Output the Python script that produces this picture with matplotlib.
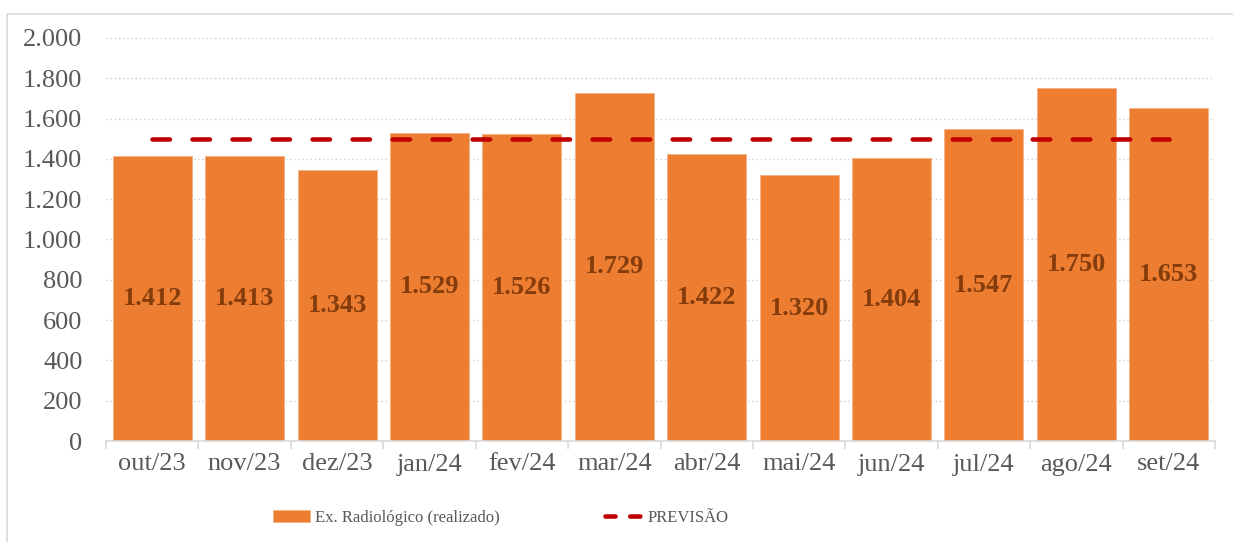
import matplotlib
matplotlib.use('Agg')
import matplotlib.pyplot as plt
from matplotlib.patches import Rectangle
from matplotlib.lines import Line2D

meses = ['out/23', 'nov/23', 'dez/23', 'jan/24', 'fev/24', 'mar/24',
         'abr/24', 'mai/24', 'jun/24', 'jul/24', 'ago/24', 'set/24']
realizado = [1412, 1413, 1343, 1529, 1526, 1729, 1422, 1320, 1404, 1547, 1750, 1653]
previsao = [1500] * len(meses)

plt.rcParams['font.family'] = ['Liberation Serif', 'DejaVu Serif']

fig = plt.figure(figsize=(12.33, 5.42), dpi=100)
ax = fig.add_axes([106 / 1233, 1 - 441 / 542, 1109 / 1233, 403 / 542])

# outer chart border (only top/left visible in the crop)
fig.patches.append(Rectangle((7 / 1233, -0.1), 1.2, (542 - 14) / 542 + 0.1,
                             transform=fig.transFigure, fill=False,
                             edgecolor='#D9D9D9', linewidth=1.2))

x = list(range(len(meses)))
bars = ax.bar(x, realizado, width=0.855, color='#ED7D31', edgecolor='#F4B183',
              linewidth=0.6, label='Ex. Radiológico (realizado)', zorder=2)
ax.plot(x, previsao, color='#C00000', linewidth=3.3, dashes=(3.8, 4.93),
        dash_capstyle='round', label='PREVISÃO', zorder=3)

for xi, v in zip(x, realizado):
    ax.text(xi, v / 2, f'{v:,}'.replace(',', '.'), ha='center', va='center',
            fontsize=19, fontweight='bold', color='#843C0C', zorder=4)

ax.set_xlim(-0.5, len(meses) - 0.5)
ax.set_ylim(0, 2000)
ax.set_yticks(range(0, 2001, 200))
ax.set_yticklabels([f'{t:,}'.replace(',', '.') for t in range(0, 2001, 200)])
ax.set_xticks(x)
ax.set_xticklabels(meses)
ax.set_xticks([i - 0.5 for i in range(len(meses) + 1)], minor=True)

ax.yaxis.grid(True, linestyle=(0, (1, 2)), color='#D0D0D0', linewidth=1)
ax.set_axisbelow(True)
for s in ['top', 'right', 'left']:
    ax.spines[s].set_visible(False)
ax.spines['bottom'].set_color('#D9D9D9')
ax.spines['bottom'].set_linewidth(1.2)

ax.tick_params(axis='y', length=0, labelsize=19, labelcolor='#595959', pad=17)
ax.tick_params(axis='x', which='major', length=0, labelsize=19,
               labelcolor='#595959', pad=9)
ax.tick_params(axis='x', which='minor', length=6, color='#D9D9D9', width=1.2)

# legend handle for the forecast line: shorter dashes so two show up
linha_leg = Line2D([], [], color='#C00000', linewidth=3.3, dashes=(2.2, 3.2),
                   dash_capstyle='round')
leg = ax.legend([bars, linha_leg], ['Ex. Radiológico (realizado)', 'PREVISÃO'],
                loc='center', bbox_to_anchor=(0.356, -0.19), ncol=2,
                frameon=False, fontsize=12, handlelength=2.2,
                handletextpad=0.35, columnspacing=6.3)
for t in leg.get_texts():
    t.set_color('#595959')

plt.savefig('out.png', dpi=100)
plt.close()
